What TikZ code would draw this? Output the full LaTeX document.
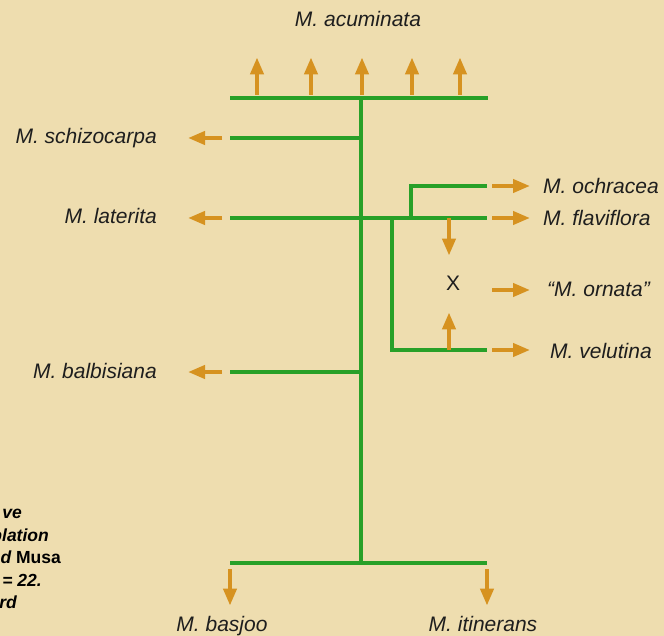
\documentclass[tikz,border=0pt]{standalone}
\usepackage{fontspec}
\setmainfont{Liberation Sans}
\usetikzlibrary{arrows.meta}
\definecolor{parchment}{RGB}{238,221,175}
\definecolor{stemgreen}{RGB}{40,160,40}
\definecolor{arrowgold}{RGB}{214,146,32}
\definecolor{inkgray}{RGB}{30,30,30}

\begin{document}
\begin{tikzpicture}[x=1pt, y=-1pt]
  \tikzstyle{species}=[
      font = \fontsize{21}{25}\selectfont\itshape
    , text = inkgray, inner sep = 0pt
    ]
  \tikzstyle{note}=[
      font = \fontsize{17.5}{20}\selectfont\bfseries\itshape
    , text = black, inner sep = 0pt, anchor = base east
    ]
  \tikzstyle{stem}=[draw = stemgreen, line width = 3.6pt]
  \tikzstyle{connect}=[-{Triangle[length=17pt,width=13pt]}, draw = arrowgold, fill = arrowgold, line width = 4pt]

  \fill[parchment] (0,0) rectangle (664,636);
  \useasboundingbox (0,0) rectangle (664,636);

  \node[species, anchor = base] (acuminata) at (358,27) {M. acuminata};
  \node[species, anchor = base east] (schizocarpa) at (157,144) {M. schizocarpa};
  \node[species, anchor = base east] (laterita) at (157,224) {M. laterita};
  \node[species, anchor = base east] (balbisiana) at (157,378) {M. balbisiana};
  \node[species, anchor = base west] (ochracea) at (543,194) {M. ochracea};
  \node[species, anchor = base west] (flaviflora) at (543,226) {M. flaviflora};
  \node[species, anchor = base west] (ornata) at (547,297) {“M. ornata”};
  \node[species, anchor = base west] (velutina) at (550,358) {M. velutina};
  \node[species, anchor = base] (basjoo) at (222,631) {M. basjoo};
  \node[species, anchor = base] (itinerans) at (483,631) {M. itinerans};
  \node[species, font = \fontsize{21}{25}\selectfont] (cross) at (453,283) {X};

  \coordinate (top west) at (230,98);
  \coordinate (top mid) at (361,98);
  \coordinate (top east) at (488,98);
  \coordinate (bot west) at (230,563);
  \coordinate (bot mid) at (361,563);
  \coordinate (bot east) at (487,563);
  \coordinate (s west) at (230,138);
  \coordinate (l west) at (230,218);
  \coordinate (l east) at (487,218);
  \coordinate (b west) at (230,372);
  \coordinate (o west) at (411,186);
  \coordinate (o east) at (487,186);
  \coordinate (v top) at (392,218);
  \coordinate (v corner) at (392,350);
  \coordinate (v east) at (487,350);
  \coordinate (x start) at (492,290);
  \coordinate (f cross) at (449,218);
  \coordinate (v cross) at (449,350);

  \draw[stem] (top west) -- (top east);
  \draw[stem] (top mid) -- (bot mid);
  \draw[stem] (bot west) -- (bot east);
  \draw[stem] (s west) -- (s west -| top mid);
  \draw[stem] (l west) -- (l east);
  \draw[stem] (b west) -- (b west -| top mid);
  \draw[stem] (o west |- l east) -- (o west) -- (o east);
  \draw[stem] (v top) -- (v corner) -- (v east);

  \foreach \x [count=\i] in {257,311,362,412,460}
    \draw[connect, shorten <= 3pt, shorten >= 30pt] (\x,98) coordinate (up\i) -- (up\i |- acuminata.south);

  \draw[connect, shorten <= 8pt, shorten >= 31pt] (s west) -- (schizocarpa.east |- s west);
  \draw[connect, shorten <= 8pt, shorten >= 31pt] (l west) -- (laterita.east |- l west);
  \draw[connect, shorten <= 8pt, shorten >= 31pt] (b west) -- (balbisiana.east |- b west);
  \draw[connect, shorten <= 5pt, shorten >= 13pt] (o east) -- (ochracea.west |- o east);
  \draw[connect, shorten <= 5pt, shorten >= 13pt] (l east) -- (flaviflora.west |- l east);
  \draw[connect, shorten >= 17pt] (x start) -- (ornata.west |- x start);
  \draw[connect, shorten <= 5pt, shorten >= 20pt] (v east) -- (velutina.west |- v east);
  \draw[connect, shorten >= 20pt] (f cross) -- (f cross |- cross.north);
  \draw[connect, shorten >= 22pt] (v cross) -- (v cross |- cross.south);
  \draw[connect, shorten <= 6pt, shorten >= 10pt] (bot west) -- (bot west |- basjoo.north);
  \draw[connect, shorten <= 6pt, shorten >= 10pt] (bot east) -- (bot east |- itinerans.north);

  \node[note] (n1) at (22,518) {ve};
  \node[note] (n2) at (49,541) {plation};
  \node[note] (n3) at (61,563) {ed \upshape Musa};
  \node[note] (n4) at (42,586) {= 22.};
  \node[note] (n5) at (17,608) {rd};

\end{tikzpicture}
\end{document}
